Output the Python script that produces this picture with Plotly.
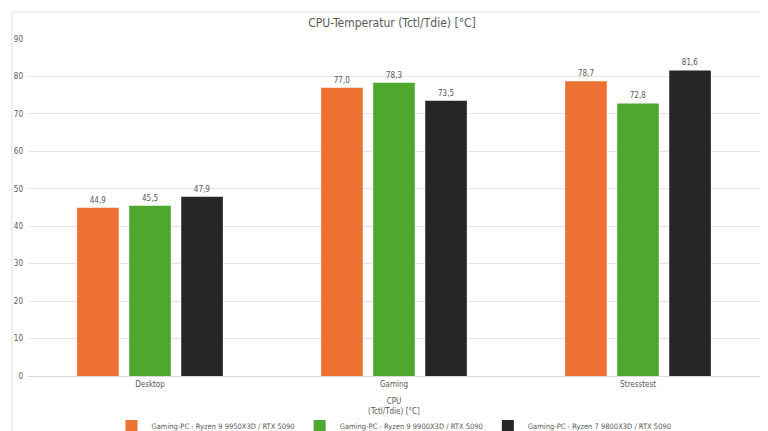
import plotly.graph_objects as go

categories = ['Desktop', 'Gaming', 'Stresstest']
series_names = ['Gaming-PC - Ryzen 9 9950X3D / RTX 5090',
                'Gaming-PC - Ryzen 9 9900X3D / RTX 5090',
                'Gaming-PC - Ryzen 7 9800X3D / RTX 5090']
series_values = [[44.9, 77.0, 78.7],
                 [45.5, 78.3, 72.8],
                 [47.9, 73.5, 81.6]]
colors = ['#ED7132', '#4EA72E', '#262626']

font = 'DejaVu Sans Condensed, Liberation Sans, sans-serif'

fig = go.Figure()
for name, vals, c in zip(series_names, series_values, colors):
    fig.add_trace(go.Bar(x=categories, y=vals, name=name, marker_color=c,
                         marker_line_width=0, texttemplate='%{y:.1f}',
                         textposition='outside', textfont=dict(size=8, color='#595959'),
                         cliponaxis=False))

fig.update_layout(
    width=768, height=431, paper_bgcolor='white', plot_bgcolor='white',
    font=dict(family=font, size=8, color='#595959'),
    separators=',.',
    title=dict(text='CPU-Temperatur (Tctl/Tdie) [°C]', x=0.5, y=0.975, xanchor='center',
               font=dict(size=12, color='#595959')),
    margin=dict(l=20, r=16, t=31, b=63, autoexpand=False),
    barmode='group', bargap=0.36, bargroupgap=0.2,
    showlegend=True,
    legend=dict(orientation='h', x=0.5, xanchor='center', y=-0.148, yanchor='middle',
                font=dict(size=7.5, color='#595959'), itemwidth=30),
    xaxis=dict(showline=True, linecolor='#d9d9d9', ticks='', tickfont=dict(size=8),
               automargin=False,
               title=dict(text='CPU<br>(Tctl/Tdie) [°C]', font=dict(size=8), standoff=10)),
    yaxis=dict(range=[0, 90], dtick=10, showgrid=True, gridcolor='#e6e6e6',
               zeroline=False, tickfont=dict(size=8), ticklabelstandoff=4, automargin=False),
)
fig.add_shape(type='rect', xref='paper', yref='paper', x0=-0.022, x1=1.016, y0=-0.172, y1=1.08,
              line=dict(color='#e0e0e0', width=1))
fig.write_html('out.html')
